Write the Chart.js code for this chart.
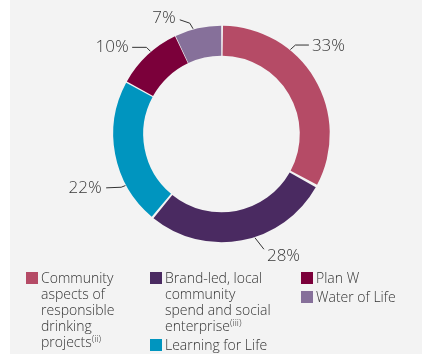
<!DOCTYPE html>
<html>
<head>
<meta charset="utf-8">
<script src="https://cdn.jsdelivr.net/npm/chart.js@4.4.0/dist/chart.umd.min.js"></script>
<style>
  html, body { margin: 0; padding: 0; background: #fff; }
  #panel { position: absolute; left: 10px; top: 0; width: 412px; height: 354px; background: #f3f3f3; }
  #chart-wrap { position: absolute; left: 0; top: 0; width: 422px; height: 354px; }
  .legend-col {
    position: absolute; top: 270px;
    font-family: 'Open Sans', sans-serif; font-weight: 300;
    font-size: 14px; line-height: 16px; color: #333;
  }
  .legend-item { position: relative; padding-left: 15px; margin-bottom: 3px; white-space: nowrap; }
  .legend-item .swatch { position: absolute; left: 0; top: 2px; width: 12px; height: 12px; }
  sup { font-size: 9.5px; line-height: 0; vertical-align: 5px; }
</style>
</head>
<body>
<div id="panel"></div>
<div id="chart-wrap"><canvas id="donut"></canvas></div>
<div id="legend"></div>

<script>
// data
const categories = [
  ['Community', 'aspects of', 'responsible', 'drinking', 'projects'],
  ['Brand-led, local', 'community', 'spend and social', 'enterprise'],
  ['Learning for Life'],
  ['Plan W'],
  ['Water of Life']
];
const notes = ['ii', 'iii', null, null, null];
const shares = [33, 28, 22, 10, 7];
const colors = ['#b54b66', '#4a2a61', '#0095bf', '#7b003a', '#86709a'];

// which categories go in which legend column
const legendColumns = [[0], [1, 2], [3, 4]];
const columnLeft = [26, 150, 301];

// leader line + label placement for each slice
const labelLayout = [
  { frac: 0.33, segs: [[5, -4.5], [13.5, 0]], align: 'left', text: [3, 1] },
  { frac: 0.43, segs: [[9, 11.5]], align: 'left', text: [3, 7] },
  { frac: 0.28, segs: [[-4.3, 1.7], [-15, 0.6]], align: 'right', text: [-4.5, 0] },
  { frac: 0.57, segs: [[-4, -4], [-14.3, 0]], align: 'right', text: [-3.5, -0.5] },
  { frac: 0.40, segs: [[-3.3, -5.6], [-10, -3.4]], align: 'right', text: [-4, -2] }
];

const leaderLabels = {
  id: 'leaderLabels',
  afterDatasetsDraw(chart, args, opts) {
    const ctx = chart.ctx;
    const meta = chart.getDatasetMeta(0);
    ctx.save();
    ctx.strokeStyle = opts.lineColor;
    ctx.lineWidth = 1;
    ctx.fillStyle = opts.color;
    ctx.font = opts.font;
    ctx.textBaseline = 'middle';
    meta.data.forEach((arc, i) => {
      const L = labelLayout[i];
      const p = arc.getProps(['x', 'y', 'startAngle', 'endAngle', 'outerRadius'], true);
      const a = p.startAngle + L.frac * (p.endAngle - p.startAngle);
      const r = p.outerRadius + 2;
      let x = p.x + Math.cos(a) * r;
      let y = p.y + Math.sin(a) * r;
      ctx.beginPath();
      ctx.moveTo(x, y);
      L.segs.forEach(s => { x += s[0]; y += s[1]; ctx.lineTo(x, y); });
      ctx.stroke();
      ctx.textAlign = L.align;
      ctx.fillText(shares[i] + '%', x + L.text[0], y + L.text[1]);
    });
    ctx.restore();
  }
};

new Chart(document.getElementById('donut'), {
  type: 'doughnut',
  data: {
    labels: categories,
    datasets: [{
      data: shares,
      backgroundColor: colors,
      borderWidth: 0,
      spacing: 2.5,
      hoverOffset: 0
    }]
  },
  options: {
    responsive: true,
    maintainAspectRatio: false,
    animation: false,
    radius: 107,
    cutout: '72%',
    layout: { padding: { left: 21, right: 0, top: 0, bottom: 86 } },
    plugins: {
      legend: { display: false },
      tooltip: { enabled: false },
      leaderLabels: {
        font: '300 17px "Open Sans"',
        color: '#3a3a3a',
        lineColor: '#333'
      }
    }
  },
  plugins: [leaderLabels]
});

// html legend
const legendEl = document.getElementById('legend');
legendColumns.forEach((col, c) => {
  const colEl = document.createElement('div');
  colEl.className = 'legend-col';
  colEl.style.left = columnLeft[c] + 'px';
  col.forEach(i => {
    const item = document.createElement('div');
    item.className = 'legend-item';
    const sw = document.createElement('span');
    sw.className = 'swatch';
    sw.style.background = colors[i];
    item.appendChild(sw);
    const text = document.createElement('span');
    text.innerHTML = categories[i].join('<br>') + (notes[i] ? '<sup>(' + notes[i] + ')</sup>' : '');
    item.appendChild(text);
    colEl.appendChild(item);
  });
  legendEl.appendChild(colEl);
});
</script>
</body>
</html>
